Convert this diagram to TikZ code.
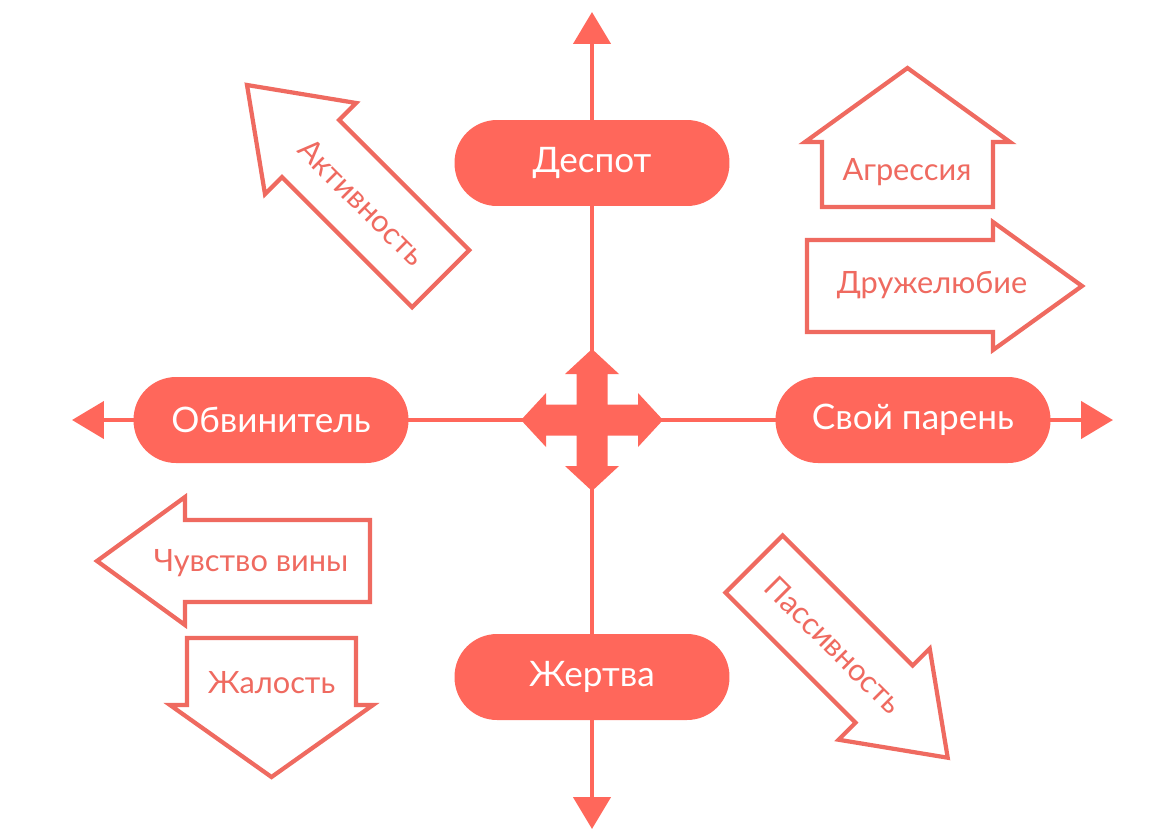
\documentclass[tikz,border=0pt]{standalone}
\usepackage{fontspec}
\setmainfont{Lato}
\usetikzlibrary{arrows.meta, positioning}
\definecolor{mCoral}{HTML}{FF675B}
\definecolor{mLine}{HTML}{EF6A60}

\begin{document}
\begin{tikzpicture}[
    x=0.02cm, y=-0.02cm,
    >={Triangle[length=0.64cm, width=0.74cm]},
    pill/.style={fill=mCoral, text=white, rounded corners=0.85cm,
                 minimum width=5.5cm, minimum height=1.72cm,
                 font=\fontsize{20}{23}\selectfont},
    axis/.style={draw=mCoral, line width=2.6pt, ->},
    outl/.style={draw=mLine, line width=2.4pt, line join=miter, fill=white},
    lbl/.style={text=mLine, font=\fontsize{17.5}{20}\selectfont},
  ]
    \useasboundingbox (0,0) rectangle (1175,839);

    % axes
    \coordinate (c) at (592,420);
    \coordinate (top) at (592,12);
    \coordinate (bot) at (592,829);
    \coordinate (lft) at (72,420);
    \coordinate (rgt) at (1113,420);
    \draw[axis] (c) -- (top);
    \draw[axis] (c) -- (bot);
    \draw[axis] (c) -- (lft);
    \draw[axis] (c) -- (rgt);

    % centre cross
    \fill[mCoral, shift={(c)}] (0,-71) -- (27,-46) -- (15.5,-46) -- (15.5,-15.5)
      -- (46,-15.5) -- (46,-27) -- (71,0) -- (46,27) -- (46,15.5) -- (15.5,15.5)
      -- (15.5,46) -- (27,46) -- (0,71) -- (-27,46) -- (-15.5,46) -- (-15.5,15.5)
      -- (-46,15.5) -- (-46,27) -- (-71,0) -- (-46,-27) -- (-46,-15.5)
      -- (-15.5,-15.5) -- (-15.5,-46) -- (-27,-46) -- cycle;

    % roles
    \node[pill] (desp) at (592,163) {Деспот};
    \node[pill] (obv) at (271,420) {Обвинитель};
    \node[pill] (svoj) at (913,420) {Свой парень};
    \node[pill] (zhert) at (592,677) {Жертва};

    % outlined arrows
    \draw[outl] (247,85) -- (356.2,103) -- (339.2,120) -- (469.3,250.1)
      -- (412.1,307.3) -- (282,177.2) -- (265,194.2) -- cycle;
    \node[lbl, rotate=-45] (akt) at (362,202) {Активность};

    \draw[outl] (822,207) -- (993,207) -- (993,142) -- (1010,142) -- (907.5,68)
      -- (805,142) -- (822,142) -- cycle;
    \node[lbl] (agr) at (907,172) {Агрессия};

    \draw[outl] (807,240) -- (993,240) -- (993,222) -- (1082,286) -- (993,350)
      -- (993,332) -- (807,332) -- cycle;
    \node[lbl] (druzh) at (932,285) {Дружелюбие};

    \draw[outl] (370,520) -- (185,520) -- (185,497) -- (97,561) -- (185,625)
      -- (185,602) -- (370,602) -- cycle;
    \node[lbl] (vina) at (251,563) {Чувство вины};

    \draw[outl] (187,638) -- (356,638) -- (356,705) -- (373,705) -- (271.5,777)
      -- (170,705) -- (187,705) -- cycle;
    \node[lbl] (zhal) at (271.5,683) {Жалость};

    \draw[outl] (782.6,535.4) -- (912.7,665.5) -- (929.7,648.5) -- (947.7,757.7)
      -- (838.5,739.7) -- (855.5,722.7) -- (725.4,592.6) -- cycle;
    \node[lbl, rotate=-45] (pass) at (834,645) {Пассивность};
\end{tikzpicture}
\end{document}
